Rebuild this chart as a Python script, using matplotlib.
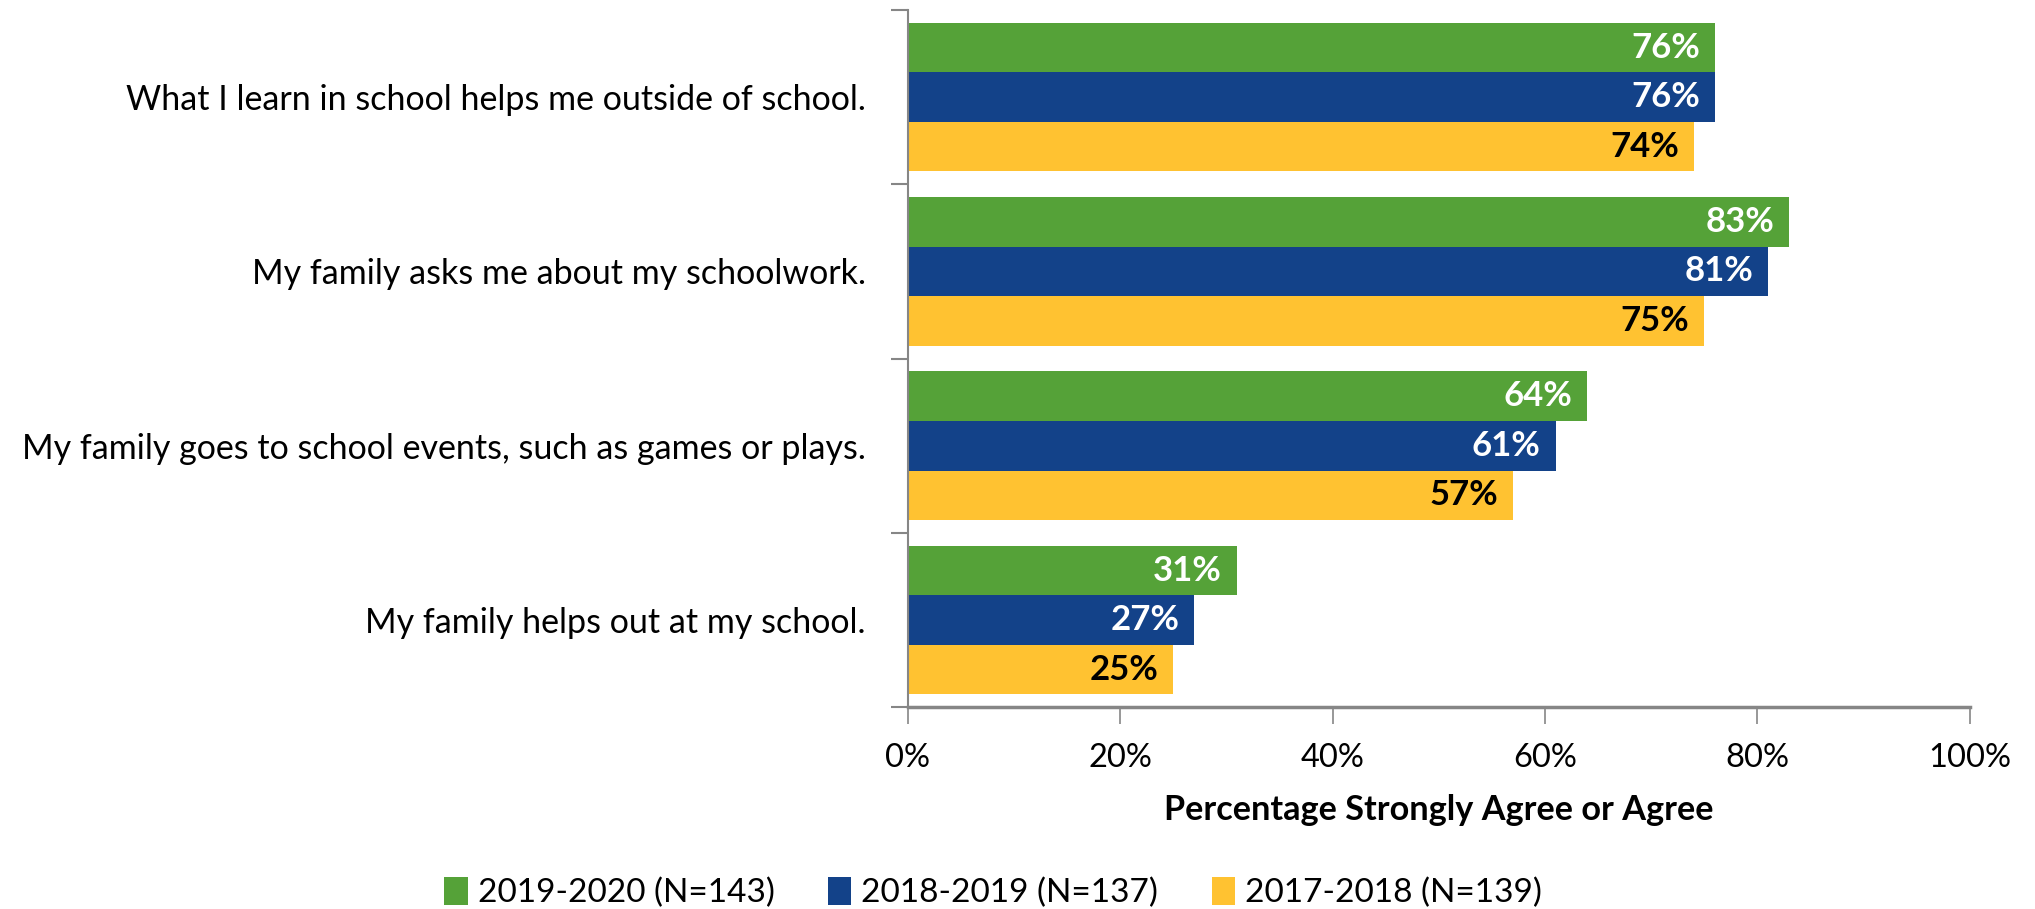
import matplotlib
matplotlib.use('Agg')
import matplotlib.pyplot as plt
import numpy as np

plt.rcParams['font.family'] = ['Lato', 'DejaVu Sans']

# data, top to bottom as shown
questions = ['What I learn in school helps me outside of school.',
             'My family asks me about my schoolwork.',
             'My family goes to school events, such as games or plays.',
             'My family helps out at my school.']
series = ['2019-2020 (N=143)', '2018-2019 (N=137)', '2017-2018 (N=139)']
v_2019_2020 = [76, 83, 64, 31]
v_2018_2019 = [76, 81, 61, 27]
v_2017_2018 = [74, 75, 57, 25]
xticks = [0, 20, 40, 60, 80, 100]

colors = ['#55A238', '#134289', '#FFC231']
txtcolors = ['white', 'white', 'black']
values = [v_2019_2020, v_2018_2019, v_2017_2018]

fig = plt.figure(figsize=(20.35, 9.09), dpi=100)
ax = fig.add_axes([0.446, 0.222, 0.522, 0.767])

n = len(questions)
ypos = np.arange(n)[::-1]
bh = 0.284
for k, (vals, c, tc, lab) in enumerate(zip(values, colors, txtcolors, series)):
    y = ypos + (1 - k) * bh
    ax.barh(y, vals, height=bh, color=c, label=lab)
    for yy, v in zip(y, vals):
        ax.text(v - 1.4, yy, f'{v}%', ha='right', va='center',
                color=tc, fontsize=25, fontweight='bold')

ax.set_xlim(0, 100)
ax.set_ylim(-0.5, n - 0.5)
ax.set_xticks(xticks)
ax.set_xticklabels([f'{t}%' for t in xticks], fontsize=23.5)
ax.set_yticks(ypos)
ax.set_yticklabels(questions, fontsize=24.5)
ax.tick_params(axis='y', which='major', length=0, pad=30)
ax.set_yticks(np.arange(-0.5, n, 1), minor=True)
ax.tick_params(axis='y', which='minor', length=12, color='#868686', width=1.5)
ax.tick_params(axis='x', length=12, color='#868686', width=1.2, pad=14)

for s in ['top', 'right']:
    ax.spines[s].set_visible(False)
ax.spines['left'].set_color('#868686')
ax.spines['left'].set_linewidth(1.5)
ax.spines['bottom'].set_color('#868686')
ax.spines['bottom'].set_linewidth(2.5)

ax.set_xlabel('Percentage Strongly Agree or Agree', fontsize=24.7,
              fontweight='bold', labelpad=15)

handles, labels = ax.get_legend_handles_labels()
fig.legend(handles, labels, loc='center', bbox_to_anchor=(0.488, 0.018),
           ncol=3, frameon=False, fontsize=24, handlelength=0.7,
           handleheight=0.9, handletextpad=0.3, columnspacing=1.6)

fig.savefig('out.png', dpi=100)
